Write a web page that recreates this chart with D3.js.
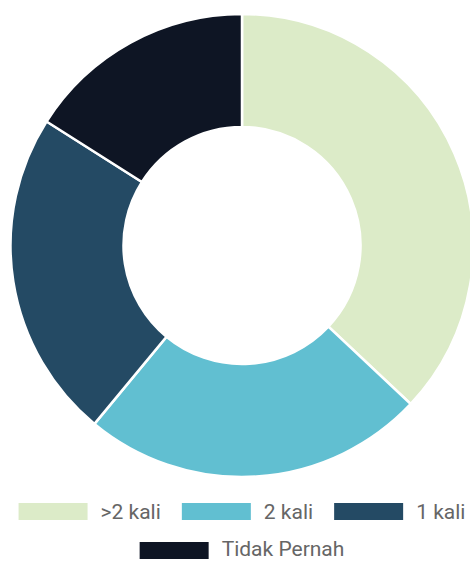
<!DOCTYPE html>
<html>
<head>
<meta charset="utf-8">
<script src="https://cdn.jsdelivr.net/npm/d3@7"></script>
<style>
  html, body { margin: 0; padding: 0; background: #fff; }
  svg { display: block; }
</style>
</head>
<body>
<script>
const labels = [">2 kali", "2 kali", "1 kali", "Tidak Pernah"];
const values = [37, 24, 23, 16];
const colors = ["#dcebc8", "#61bfd1", "#244a64", "#0e1524"];

const width = 470, height = 561;
const cx = 242, cy = 245.5;
const outerR = 231.5, innerR = 118.5;

const svg = d3.select("body").append("svg")
    .attr("width", width)
    .attr("height", height);

const pie = d3.pie().sort(null).value(d => d);
const arc = d3.arc().innerRadius(innerR).outerRadius(outerR);

const g = svg.append("g")
    .attr("transform", `translate(${cx},${cy})`);

g.selectAll("path")
  .data(pie(values))
  .join("path")
    .attr("d", arc)
    .attr("fill", (d, i) => colors[i])
    .attr("stroke", "#fff")
    .attr("stroke-width", 2.5);

// legend, wrapped into centred rows like chart.js does
const boxW = 69, boxH = 17, boxGap = 13, itemGap = 21, fontSize = 21;
const rowY = [511.5, 550.5];       // box centres
const baseY = [519, 556];          // text baselines

const legend = svg.append("g")
    .attr("font-family", "Roboto, sans-serif")
    .attr("font-size", fontSize)
    .attr("fill", "#666");

// measure labels
const tmp = legend.append("text").attr("visibility", "hidden");
const textW = labels.map(l => { tmp.text(l); return tmp.node().getComputedTextLength(); });
tmp.remove();

const itemW = textW.map(w => boxW + boxGap + w);
const rows = [[]];
let used = 0;
labels.forEach((l, i) => {
  const add = (rows[rows.length - 1].length ? itemGap : 0) + itemW[i];
  if (used + add > width - 4 && rows[rows.length - 1].length) {
    rows.push([]);
    used = 0;
  }
  used += (rows[rows.length - 1].length ? itemGap : 0) + itemW[i];
  rows[rows.length - 1].push(i);
});

rows.forEach((row, r) => {
  const total = d3.sum(row, i => itemW[i]) + itemGap * (row.length - 1);
  let x = cx - total / 2;
  row.forEach(i => {
    const item = legend.append("g");
    item.append("rect")
        .attr("x", x)
        .attr("y", rowY[r] - boxH / 2)
        .attr("width", boxW)
        .attr("height", boxH)
        .attr("fill", colors[i]);
    item.append("text")
        .attr("x", x + boxW + boxGap)
        .attr("y", baseY[r])
        .text(labels[i]);
    x += itemW[i] + itemGap;
  });
});
</script>
</body>
</html>
